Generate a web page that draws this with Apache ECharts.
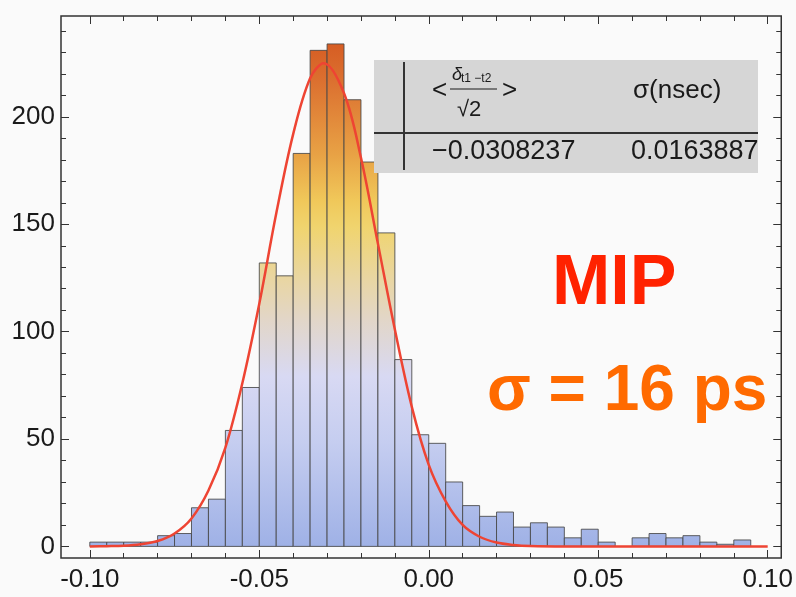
<!DOCTYPE html>
<html>
<head>
<meta charset="utf-8">
<style>html,body{margin:0;padding:0;background:#fafafa;}#c{width:796px;height:597px;}</style>
<script src="https://cdn.jsdelivr.net/npm/echarts@6/dist/echarts.min.js"></script>
</head>
<body>
<div id="c"></div>
<script>
// ---- data ----
const binWidth = 0.005;
const binStarts = [-0.100,-0.095,-0.090,-0.085,-0.080,-0.075,-0.070,-0.065,-0.060,-0.055,
  -0.050,-0.045,-0.040,-0.035,-0.030,-0.025,-0.020,-0.015,-0.010,-0.005,
  0.000,0.005,0.010,0.015,0.020,0.025,0.030,0.035,0.040,0.045,
  0.050,0.055,0.060,0.065,0.070,0.075,0.080,0.085,0.090];
const counts = [2,2,2,2,5,6,18,22,54,74,
  132,126,183,231,234,208,179,146,87,52,
  48,30,19,14,16,9,11,9,4,8,
  2,0,4,6,4,5,2,1,3];
// fitted Gaussian curve
const curveX = [-0.100,-0.095,-0.090,-0.085,-0.080,-0.075,-0.070,-0.065,-0.060,-0.055,
  -0.050,-0.045,-0.040,-0.035,-0.031,-0.025,-0.020,-0.015,-0.010,-0.005,
  0.000,0.005,0.010,0.015,0.020,0.025,0.030,0.040,0.060,0.080,0.100];
const curveY = [0,0.1,0.3,1,2.5,6,13,26,46,76,
  113,155,192,218,225,211,181,141,101,65,
  38,21,10,4.5,1.8,0.7,0.2,0,0,0,0];
const xMajor = [-0.10,-0.05,0.00,0.05,0.10];
const xMinor = [-0.10,-0.09,-0.08,-0.07,-0.06,-0.05,-0.04,-0.03,-0.02,-0.01,0.00,0.01,0.02,0.03,0.04,0.05,0.06,0.07,0.08,0.09,0.10];
const yMajor = [0,50,100,150,200];
const yMinor = [0,10,20,30,40,50,60,70,80,90,100,110,120,130,140,150,160,170,180,190,200,210,220,230,240];
const tableHead = ['σ(nsec)'];
const tableVals = ['−0.0308237','0.0163887'];
const noteMIP = 'MIP';
const noteSigma = 'σ = 16 ps';

// ---- chart ----
const xMin = -0.1085, xMax = 0.104, yMin = -5.4, yMax = 247;
const FONT = '"Liberation Sans", Arial, sans-serif';
const tickStyle = {color:'#333', width:1};
const chart = echarts.init(document.getElementById('c'), null, {renderer:'canvas'});

function xAx(pos, vals, len, labels){
  return {type:'value', position:pos, min:xMin, max:xMax,
    axisLine:{show:false, onZero:false}, splitLine:{show:false},
    axisTick:{show:true, inside:true, length:len, customValues:vals, lineStyle:tickStyle},
    axisLabel: labels ? {show:true, customValues:vals, fontSize:26, fontFamily:FONT, color:'#1a1a1a', margin:9,
      formatter:v=>v.toFixed(2)} : {show:false}};
}
function yAx(pos, vals, len, labels){
  return {type:'value', position:pos, min:yMin, max:yMax,
    axisLine:{show:false, onZero:false}, splitLine:{show:false},
    axisTick:{show:true, inside:true, length:len, customValues:vals, lineStyle:tickStyle},
    axisLabel: labels ? {show:true, customValues:vals, fontSize:26, fontFamily:FONT, color:'#1a1a1a', margin:6,
      formatter:v=>String(Math.round(v))} : {show:false}};
}

const colorStops = [
  {offset:0.00, color:'#d4561f'},
  {offset:0.10, color:'#dc7130'},
  {offset:0.24, color:'#e8a245'},
  {offset:0.33, color:'#f0c85a'},
  {offset:0.38, color:'#f0d46e'},
  {offset:0.48, color:'#e9d6a2'},
  {offset:0.56, color:'#e2d6c8'},
  {offset:0.67, color:'#d8d9f3'},
  {offset:0.80, color:'#c5cdf0'},
  {offset:1.00, color:'#9fb1e6'}
];

const barData = binStarts.map((s,i)=>[s, s+binWidth, counts[i]]);
const curveData = curveX.map((x,i)=>[x, curveY[i]]);

chart.setOption({
  backgroundColor:'#fafafa',
  animation:false,
  grid:{left:61, top:16, width:723, height:542, show:true, borderColor:'#333', borderWidth:1.5, backgroundColor:'transparent'},
  xAxis:[xAx('bottom', xMajor, 8, true), xAx('bottom', xMinor, 5, false), xAx('top', xMajor, 8, false), xAx('top', xMinor, 5, false)],
  yAxis:[yAx('left', yMajor, 8, true), yAx('left', yMinor, 5, false), yAx('right', yMajor, 8, false), yAx('right', yMinor, 5, false)],
  series:[
    {type:'custom', xAxisIndex:0, yAxisIndex:0, data:barData, encode:{x:[0,1], y:2},
     renderItem:function(params, api){
       const x0 = api.value(0), x1 = api.value(1), c = api.value(2);
       if (!(c > 0)) return null;
       const p0 = api.coord([x0, 0]);
       const p1 = api.coord([x1, c]);
       const gTop = api.coord([0, 240])[1];
       const gBot = api.coord([0, 0])[1];
       return {type:'rect',
         shape:{x:p0[0], y:p1[1], width:p1[0]-p0[0], height:p0[1]-p1[1]},
         style:{fill:{type:'linear', x:0, y:gTop, x2:0, y2:gBot, global:true, colorStops:colorStops},
                stroke:'rgba(70,70,70,0.85)', lineWidth:1}};
     }},
    {type:'line', xAxisIndex:0, yAxisIndex:0, data:curveData, smooth:0.35, showSymbol:false, symbol:'none',
     lineStyle:{color:'#ee4433', width:2.5}, z:5}
  ],
  graphic:[
    {type:'rect', shape:{x:374, y:60, width:384, height:113}, style:{fill:'#d6d6d6'}, z:10},
    {type:'line', shape:{x1:404, y1:62, x2:404, y2:170}, style:{stroke:'#333', lineWidth:2}, z:11},
    {type:'line', shape:{x1:374, y1:133, x2:758, y2:133}, style:{stroke:'#333', lineWidth:2}, z:11},
    {type:'text', x:432, y:91, style:{text:'<', font:'26px '+FONT, fill:'#1a1a1a', verticalAlign:'middle'}, z:12},
    {type:'text', x:452, y:75, style:{text:'δ', font:'italic 18px '+FONT, fill:'#1a1a1a', verticalAlign:'middle'}, z:12},
    {type:'text', x:461, y:79, style:{text:'t1 −t2', font:'12px '+FONT, fill:'#1a1a1a', verticalAlign:'middle'}, z:12},
    {type:'line', shape:{x1:450, y1:89, x2:497, y2:89}, style:{stroke:'#1a1a1a', lineWidth:1.2}, z:12},
    {type:'text', x:457, y:110, style:{text:'√2', font:'22px '+FONT, fill:'#1a1a1a', verticalAlign:'middle'}, z:12},
    {type:'text', x:502, y:91, style:{text:'>', font:'26px '+FONT, fill:'#1a1a1a', verticalAlign:'middle'}, z:12},
    {type:'text', x:633, y:91, style:{text:tableHead[0], font:'26px '+FONT, fill:'#1a1a1a', verticalAlign:'middle'}, z:12},
    {type:'text', x:432, y:152, style:{text:tableVals[0], font:'27px '+FONT, fill:'#1a1a1a', verticalAlign:'middle'}, z:12},
    {type:'text', x:631, y:152, style:{text:tableVals[1], font:'27px '+FONT, fill:'#1a1a1a', verticalAlign:'middle'}, z:12},
    {type:'text', x:552, y:285, style:{text:noteMIP, font:'bold 70px '+FONT, fill:'#ff2200', verticalAlign:'middle'}, z:12},
    {type:'text', x:487, y:392, style:{text:noteSigma, font:'bold 64px '+FONT, fill:'#ff6a00', verticalAlign:'middle'}, z:12}
  ]
});
</script>
</body>
</html>
